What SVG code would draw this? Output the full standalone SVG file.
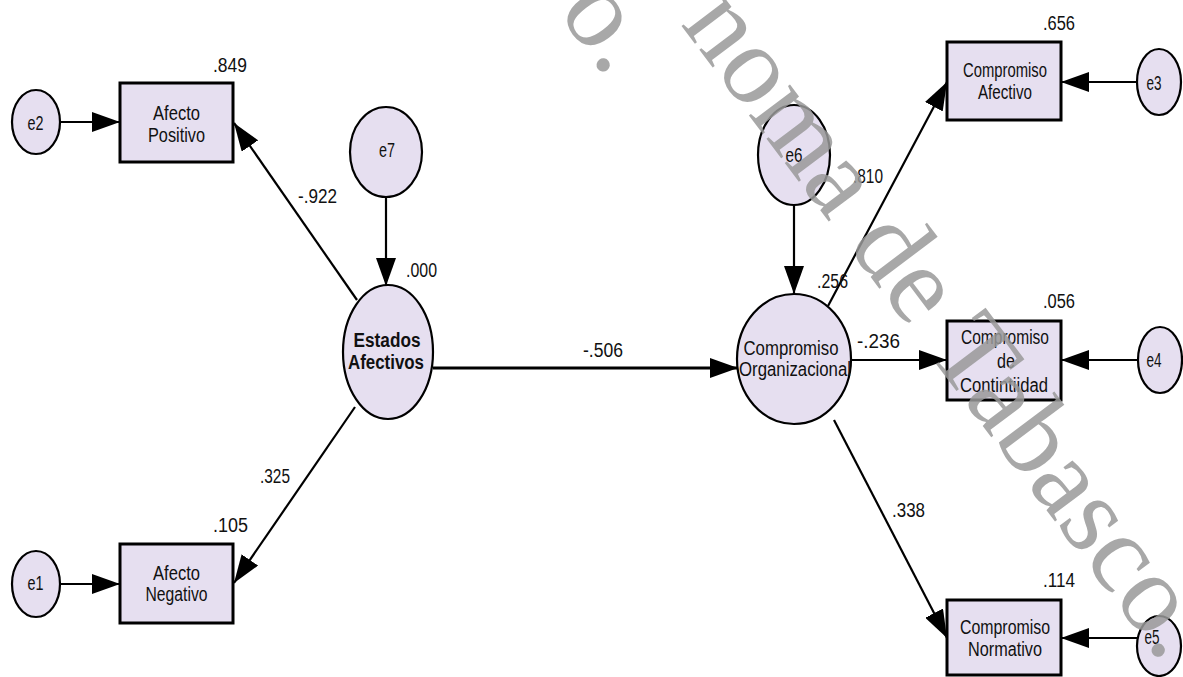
<svg xmlns="http://www.w3.org/2000/svg" width="1183" height="677" viewBox="0 0 1183 677">
<defs>
<style>
.node{fill:#e6dff0;stroke:#000;stroke-width:2.2}
.box{fill:#e6dff0;stroke:#000;stroke-width:3}
.lbl{font-family:"Liberation Sans",Arial,sans-serif;font-size:19.5px;fill:#111;text-anchor:middle}
.bold{font-weight:bold}
.num{font-family:"Liberation Sans",Arial,sans-serif;font-size:20px;fill:#111}
.con{stroke:#000;stroke-width:2.2;fill:none;marker-end:url(#ah)}
.wm{font-family:"Liberation Serif","Times New Roman",serif;font-size:112px;fill:#999;fill-opacity:0.85}
</style>
<marker id="ah" markerUnits="userSpaceOnUse" markerWidth="28" markerHeight="20" refX="28" refY="10" orient="auto">
<path d="M0,0 L28,10 L0,20 z" fill="#000"/>
</marker>
</defs>
<rect width="1183" height="677" fill="#fff"/>

<g id="connectors">
<line class="con" x1="60" y1="122" x2="120" y2="122"/>
<line class="con" x1="60" y1="584" x2="120" y2="584"/>
<line class="con" x1="386" y1="197" x2="386" y2="286"/>
<line class="con" x1="357" y1="300" x2="234" y2="123"/>
<line class="con" x1="355" y1="407" x2="234" y2="583"/>
<line class="con" x1="433" y1="368" x2="738" y2="368" style="stroke-width:3"/>
<line class="con" x1="794" y1="205" x2="794" y2="294"/>
<line class="con" x1="828" y1="306" x2="947" y2="82"/>
<line class="con" x1="852" y1="360" x2="947" y2="360"/>
<line class="con" x1="834" y1="420" x2="947" y2="638"/>
<line class="con" x1="1137" y1="82" x2="1061" y2="82"/>
<line class="con" x1="1138" y1="360" x2="1061" y2="360"/>
<line class="con" x1="1137" y1="638" x2="1061" y2="638"/>
</g>

<g id="labels">
<text class="num" x="213" y="72" textLength="34" lengthAdjust="spacingAndGlyphs">.849</text>
<text class="num" x="298" y="203" textLength="39" lengthAdjust="spacingAndGlyphs">-.922</text>
<text class="num" x="406" y="277" textLength="31" lengthAdjust="spacingAndGlyphs">.000</text>
<text class="num" x="260" y="483" textLength="30" lengthAdjust="spacingAndGlyphs">.325</text>
<text class="num" x="213" y="532" textLength="35" lengthAdjust="spacingAndGlyphs">.105</text>
<text class="num" x="583" y="357" textLength="40" lengthAdjust="spacingAndGlyphs">-.506</text>
<text class="num" x="1043" y="30" textLength="32" lengthAdjust="spacingAndGlyphs">.656</text>
<text class="num" x="853" y="183" textLength="30" lengthAdjust="spacingAndGlyphs">.810</text>
<text class="num" x="817" y="288" textLength="31" lengthAdjust="spacingAndGlyphs">.256</text>
<text class="num" x="857" y="348" textLength="43" lengthAdjust="spacingAndGlyphs">-.236</text>
<text class="num" x="1043" y="308" textLength="32" lengthAdjust="spacingAndGlyphs">.056</text>
<text class="num" x="892" y="517" textLength="33" lengthAdjust="spacingAndGlyphs">.338</text>
<text class="num" x="1043" y="587" textLength="32" lengthAdjust="spacingAndGlyphs">.114</text>
</g>

<g id="e2"><ellipse class="node" cx="36" cy="122" rx="24" ry="32"/><text class="lbl" x="35.5" y="130" textLength="16" lengthAdjust="spacingAndGlyphs">e2</text></g>
<g id="e1"><ellipse class="node" cx="36" cy="584" rx="24" ry="33"/><text class="lbl" x="35.5" y="590" textLength="16" lengthAdjust="spacingAndGlyphs">e1</text></g>
<g id="e7"><ellipse class="node" cx="386" cy="152" rx="36" ry="45"/><text class="lbl" x="387" y="157" textLength="16" lengthAdjust="spacingAndGlyphs">e7</text></g>
<g id="e6"><ellipse class="node" cx="794" cy="155" rx="36" ry="50"/><text class="lbl" x="794" y="162" textLength="17" lengthAdjust="spacingAndGlyphs">e6</text></g>
<g id="e3"><ellipse class="node" cx="1159" cy="82" rx="22" ry="33"/><text class="lbl" x="1154" y="90" textLength="15" lengthAdjust="spacingAndGlyphs">e3</text></g>
<g id="e4"><ellipse class="node" cx="1160" cy="360" rx="22" ry="33"/><text class="lbl" x="1154" y="367" textLength="15" lengthAdjust="spacingAndGlyphs">e4</text></g>
<g id="e5"><ellipse class="node" cx="1159" cy="646" rx="22" ry="30"/><text class="lbl" x="1152" y="644" textLength="15" lengthAdjust="spacingAndGlyphs">e5</text></g>

<g id="afecto-positivo"><rect class="box" x="120" y="83" width="113" height="79"/>
<text class="lbl" x="176.5" y="120" textLength="47" lengthAdjust="spacingAndGlyphs">Afecto</text>
<text class="lbl" x="176.5" y="142" textLength="57" lengthAdjust="spacingAndGlyphs">Positivo</text></g>

<g id="afecto-negativo"><rect class="box" x="120" y="544" width="113" height="79"/>
<text class="lbl" x="176.5" y="580" textLength="47" lengthAdjust="spacingAndGlyphs">Afecto</text>
<text class="lbl" x="176.5" y="601" textLength="62" lengthAdjust="spacingAndGlyphs">Negativo</text></g>

<g id="estados-afectivos"><ellipse class="node" cx="388" cy="352" rx="45" ry="67"/>
<text class="lbl bold" x="387" y="347" textLength="67" lengthAdjust="spacingAndGlyphs">Estados</text>
<text class="lbl bold" x="386" y="369" textLength="76" lengthAdjust="spacingAndGlyphs">Afectivos</text></g>

<g id="compromiso-organizacional"><ellipse class="node" cx="794" cy="359" rx="57" ry="65"/>
<text class="lbl" x="791" y="355" textLength="95" lengthAdjust="spacingAndGlyphs">Compromiso</text>
<text class="lbl" x="795" y="376" textLength="112" lengthAdjust="spacingAndGlyphs">Organizacional</text></g>

<g id="compromiso-afectivo"><rect class="box" x="947" y="42" width="114" height="78"/>
<text class="lbl" x="1005" y="77" textLength="84" lengthAdjust="spacingAndGlyphs">Compromiso</text>
<text class="lbl" x="1005" y="99" textLength="54" lengthAdjust="spacingAndGlyphs">Afectivo</text></g>

<g id="compromiso-continuidad"><rect class="box" x="947" y="321" width="114" height="79"/>
<text class="lbl" x="1005" y="344" textLength="88" lengthAdjust="spacingAndGlyphs">Compromiso</text>
<text class="lbl" x="1006" y="368" textLength="18" lengthAdjust="spacingAndGlyphs">de</text>
<text class="lbl" x="1004" y="392" textLength="88" lengthAdjust="spacingAndGlyphs">Contintiidad</text></g>

<g id="compromiso-normativo"><rect class="box" x="947" y="600" width="114" height="75"/>
<text class="lbl" x="1005" y="634" textLength="90" lengthAdjust="spacingAndGlyphs">Compromiso</text>
<text class="lbl" x="1005" y="656" textLength="74" lengthAdjust="spacingAndGlyphs">Normativo</text></g>

<g id="watermark">
<text class="wm" transform="translate(557,12) rotate(53)">o.</text>
<text class="wm" transform="translate(680,24) rotate(53)">noma de Tabasco.</text>
</g>
</svg>
